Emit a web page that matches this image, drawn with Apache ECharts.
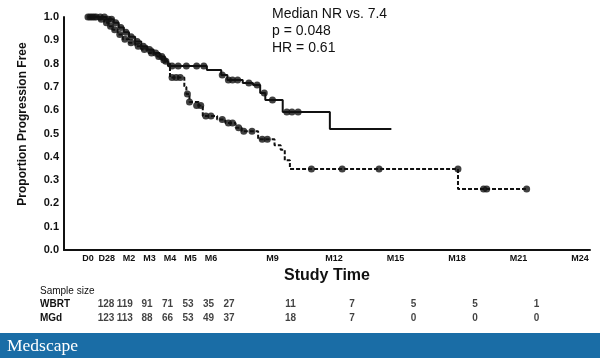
<!DOCTYPE html>
<html><head><meta charset="utf-8">
<script src="https://cdn.jsdelivr.net/npm/echarts@6/dist/echarts.min.js"></script>
<style>html,body{margin:0;padding:0;background:#fff}#c{width:600px;height:358px}</style>
</head><body><div id="c"></div>
<script>
// x axis: study time in months
const tickValues = [0, 0.92, 2, 3, 4, 5, 6, 9, 12, 15, 18, 21, 24];
const tickLabels = ['D0', 'D28', 'M2', 'M3', 'M4', 'M5', 'M6', 'M9', 'M12', 'M15', 'M18', 'M21', 'M24'];
// sample size table
const riskTimes = [0, 0.92, 2, 3, 4, 5, 6, 9, 12, 15, 18, 21];
const riskGroups = ['WBRT', 'MGd'];
const wbrtAtRisk = [128, 119, 91, 71, 53, 35, 27, 11, 7, 5, 5, 1];
const mgdAtRisk = [123, 113, 88, 66, 53, 49, 37, 18, 7, 0, 0, 0];
// Kaplan-Meier steps [month, proportion]
const mgdCurve = [[0,1.0],[0.9,0.99],[1.25,0.975],[1.5,0.955],[1.75,0.935],[2.0,0.915],[2.3,0.895],[2.6,0.875],[2.9,0.86],[3.2,0.845],[3.5,0.83],[3.75,0.81],[3.9,0.79],[5.8,0.772],[6.5,0.751],[6.8,0.73],[7.55,0.717],[8.05,0.708],[8.4,0.674],[8.65,0.644],[9.5,0.592],[11.8,0.519],[14.8,0.519]];
const wbrtCurve = [[0,1.0],[0.5,0.99],[0.8,0.975],[1.0,0.96],[1.2,0.945],[1.45,0.925],[1.7,0.905],[2.0,0.89],[2.3,0.875],[2.6,0.86],[2.95,0.845],[3.3,0.83],[3.6,0.815],[3.85,0.80],[4.0,0.74],[4.7,0.70],[4.8,0.67],[4.95,0.635],[5.4,0.62],[5.6,0.575],[6.3,0.56],[6.7,0.545],[7.2,0.525],[7.5,0.51],[8.3,0.475],[9.1,0.45],[9.4,0.43],[9.6,0.385],[9.85,0.348],[18.05,0.262],[21.4,0.262]];
// censored observations
const mgdCensor = [[0,1],[0.2,1],[0.4,1],[0.6,1],[0.8,1],[1.0,0.99],[1.15,0.99],[1.35,0.975],[1.6,0.955],[1.85,0.935],[2.1,0.915],[2.4,0.895],[2.7,0.875],[3.0,0.86],[3.3,0.845],[3.6,0.83],[3.8,0.81],[4.1,0.79],[4.4,0.79],[4.8,0.79],[5.3,0.79],[5.65,0.79],[6.55,0.751],[6.85,0.73],[7.05,0.73],[7.3,0.73],[7.85,0.717],[8.25,0.708],[8.6,0.674],[9.0,0.644],[9.7,0.592],[9.95,0.592],[10.25,0.592]];
const wbrtCensor = [[0.1,1],[0.3,1],[0.65,0.99],[0.9,0.975],[1.1,0.96],[1.3,0.945],[1.55,0.925],[1.8,0.905],[2.1,0.89],[2.45,0.875],[2.75,0.86],[3.1,0.845],[3.45,0.83],[3.7,0.815],[4.1,0.74],[4.3,0.74],[4.5,0.74],[4.85,0.67],[4.95,0.635],[5.3,0.62],[5.5,0.62],[5.75,0.575],[6.0,0.575],[6.55,0.56],[6.85,0.545],[7.05,0.545],[7.35,0.525],[7.6,0.51],[8.0,0.51],[8.5,0.475],[8.75,0.475],[10.9,0.348],[12.4,0.348],[14.2,0.348],[18.05,0.348],[19.3,0.262],[19.45,0.262],[21.4,0.262]];
const annotation = ['Median NR vs. 7.4', 'p = 0.048', 'HR = 0.61'];

const FONT = '"Liberation Sans", Arial, Helvetica, sans-serif';
const INK = '#111';
const chart = echarts.init(document.getElementById('c'), null, {renderer: 'canvas'});

const riskData = [];
riskTimes.forEach((t, i) => {
  riskData.push([t, 'WBRT', wbrtAtRisk[i]]);
  riskData.push([t, 'MGd', mgdAtRisk[i]]);
});

chart.setOption({
  animation: false,
  backgroundColor: '#fff',
  grid: [
    {left: 64, right: 10, top: 17, bottom: 108},
    {left: 64, right: 10, top: 297, height: 28}
  ],
  xAxis: [
    {
      type: 'value', gridIndex: 0, min: -1.17, max: 24.49,
      axisLine: {onZero: false, lineStyle: {color: INK, width: 2}},
      axisTick: {show: false},
      splitLine: {show: false},
      axisLabel: {
        customValues: tickValues, margin: 4,
        fontFamily: FONT, fontSize: 9, fontWeight: 'bold', color: INK,
        formatter: v => { let k = 0; tickValues.forEach((t, i) => { if (Math.abs(t - v) < Math.abs(tickValues[k] - v)) k = i; }); return tickLabels[k]; }
      },
      name: 'Study Time', nameLocation: 'middle', nameGap: 18,
      nameTextStyle: {fontFamily: FONT, fontSize: 16, fontWeight: 'bold', color: INK}
    },
    {
      type: 'value', gridIndex: 1, min: -1.17, max: 24.49, show: false
    }
  ],
  yAxis: [
    {
      type: 'value', gridIndex: 0, min: 0, max: 1, interval: 0.1,
      axisLine: {show: true, onZero: false, lineStyle: {color: INK, width: 2}},
      axisTick: {show: false},
      splitLine: {show: false},
      axisLabel: {margin: 5, fontFamily: FONT, fontSize: 11, fontWeight: 'bold', color: INK, formatter: v => v.toFixed(1)}
    },
    {
      type: 'category', gridIndex: 1, data: riskGroups, inverse: true,
      axisLine: {show: false}, axisTick: {show: false}, splitLine: {show: false},
      axisLabel: {align: 'left', margin: 24, fontFamily: FONT, fontSize: 10, fontWeight: 'bold', color: INK}
    }
  ],
  series: [
    {
      type: 'line', name: 'MGd', data: mgdCurve, step: 'end', symbol: 'none',
      lineStyle: {color: INK, width: 2}, z: 3
    },
    {
      type: 'line', name: 'WBRT', data: wbrtCurve, step: 'end', symbol: 'none',
      lineStyle: {color: INK, width: 2, type: [4, 2]}, z: 3
    },
    {
      type: 'scatter', data: mgdCensor, symbol: 'circle', symbolSize: 7,
      itemStyle: {color: INK}, z: 4
    },
    {
      type: 'scatter', data: wbrtCensor, symbol: 'circle', symbolSize: 7,
      itemStyle: {color: INK}, z: 4
    },
    {
      type: 'scatter', xAxisIndex: 1, yAxisIndex: 1, data: riskData,
      symbolSize: 0.1, itemStyle: {color: 'rgba(0,0,0,0)'},
      label: {show: true, position: 'inside', offset: [18, 0], formatter: p => String(p.value[2]),
        fontFamily: FONT, fontSize: 10, fontWeight: 'bold', color: INK}
    }
  ],
  graphic: [
    {type: 'text', x: 23, y: 124, rotation: Math.PI / 2,
      style: {text: 'Proportion Progression Free', font: 'bold 12px ' + FONT, fill: INK, align: 'center', verticalAlign: 'middle'}},
    {type: 'text', x: 272, y: 31,
      style: {text: annotation.join('\n'), font: '14px ' + FONT, lineHeight: 17, fill: INK, align: 'left', verticalAlign: 'middle'}},
    {type: 'text', x: 40, y: 291,
      style: {text: 'Sample size', font: '10px ' + FONT, fill: INK, align: 'left', verticalAlign: 'middle'}},
    {type: 'rect', shape: {x: 0, y: 333, width: 600, height: 25}, style: {fill: '#1a6da6'}},
    {type: 'text', x: 7, y: 346,
      style: {text: 'Medscape', font: '17.5px "Liberation Serif", "DejaVu Serif", serif', fill: '#fff', align: 'left', verticalAlign: 'middle'}}
  ]
});
</script></body></html>
